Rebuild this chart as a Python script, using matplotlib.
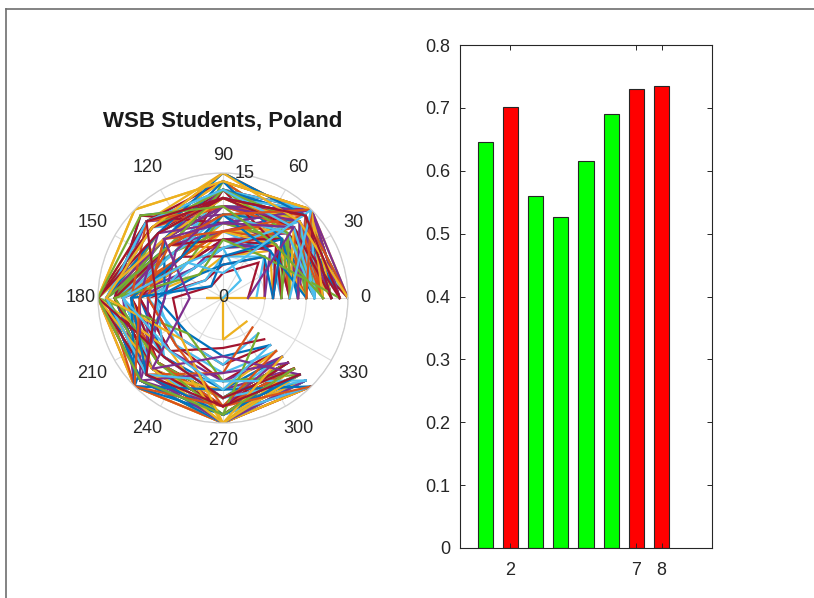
import numpy as np
import matplotlib
matplotlib.use("Agg")
import matplotlib.pyplot as plt
from matplotlib.lines import Line2D

plt.rcParams['font.family'] = ['Liberation Sans', 'DejaVu Sans']

# Survey directions (degrees) and per-direction scores for every respondent
angles_deg = [0, 45, 90, 135, 180, 225, 270, 315]

q0 = [12, 9, 15, 7, 10, 13, 8, 11, 14, 6, 15, 10, 12, 5, 11, 9, 13, 8, 14, 12,
      3, 11, 10, 15, 9, 12, 7, 13, 11, 14, 10, 8, 12, 15, 6, 13, 14, 11, 9, 12,
      4, 14, 10, 8, 13, 11, 7, 12, 15, 14, 9, 13, 5, 11, 12, 8, 15, 10, 5, 9,
      12, 0, 7, 6, 12, 10, 13, 7, 11, 14, 9, 12, 8, 15, 10, 11, 6, 13, 12, 9,
      14, 8, 11, 13, 10, 15, 12, 9, 14, 11, 13, 6, 10, 15, 3, 12, 8, 14]
q45 = [15, 11, 14, 9, 12, 15, 10, 13, 15, 8, 13, 12, 14, 7, 15, 12, 11, 9, 15, 13,
       6, 14, 10, 15, 11, 12, 8, 15, 10, 13, 14, 11, 13, 12, 9, 15, 14, 11, 14, 10,
       7, 15, 13, 10, 14, 12, 10, 15, 11, 13, 12, 15, 8, 13, 12, 9, 14, 14, 0, 15,
       11, 3, 9, 7, 14, 9, 13, 11, 15, 12, 10, 13, 12, 15, 13, 11, 10, 14, 12, 13,
       15, 11, 13, 12, 8, 14, 15, 13, 7, 12, 14, 10, 15, 13, 12, 9, 15, 14]
q90 = [10, 8, 15, 6, 13, 9, 7, 12, 13, 5, 11, 14, 12, 4, 9, 14, 8, 10, 11, 13,
       3, 13, 9, 14, 7, 12, 8, 13, 6, 11, 12, 9, 10, 12, 7, 11, 15, 9, 12, 8,
       5, 14, 10, 8, 12, 11, 9, 13, 10, 11, 6, 14, 7, 12, 9, 13, 13, 11, 0, 8,
       10, 6, 5, 4, 11, 8, 13, 10, 12, 9, 14, 8, 12, 11, 13, 10, 7, 15, 11, 12,
       9, 13, 6, 12, 10, 8, 14, 11, 7, 13, 12, 5, 10, 15, 9, 11, 3, 12]
q135 = [9, 7, 13, 5, 8, 12, 6, 11, 12, 4, 10, 7, 11, 3, 8, 12, 9, 13, 10, 8,
        2, 9, 8, 15, 6, 11, 9, 11, 5, 10, 12, 8, 9, 10, 6, 14, 12, 7, 11, 8,
        3, 13, 9, 7, 11, 10, 8, 12, 9, 10, 9, 12, 5, 10, 8, 7, 13, 10, 0, 9,
        6, 5, 7, 4, 12, 6, 10, 9, 11, 14, 10, 7, 11, 10, 12, 8, 9, 11, 13, 10,
        11, 9, 6, 12, 7, 10, 15, 8, 4, 13, 11, 2, 9, 12, 10, 14, 6, 13]
q180 = [14, 13, 15, 12, 14, 15, 11, 14, 15, 10, 13, 12, 14, 9, 13, 15, 12, 13, 14, 13,
        6, 14, 12, 15, 11, 13, 12, 14, 10, 13, 14, 12, 13, 15, 11, 13, 14, 12, 14, 12,
        8, 15, 13, 12, 14, 13, 12, 14, 12, 13, 13, 15, 10, 13, 12, 11, 14, 14, 2, 12,
        13, 9, 10, 8, 15, 11, 14, 13, 15, 13, 7, 12, 14, 9, 15, 12, 13, 14, 11, 15,
        10, 14, 8, 15, 11, 9, 15, 7, 13, 14, 15, 11, 10, 14, 4, 15, 12, 8]
q225 = [13, 12, 14, 11, 13, 14, 10, 12, 15, 9, 13, 11, 13, 8, 12, 14, 12, 12, 14, 11,
        7, 13, 12, 15, 11, 13, 10, 14, 10, 13, 13, 11, 12, 14, 10, 12, 15, 11, 13, 12,
        8, 14, 12, 11, 13, 12, 12, 14, 11, 13, 12, 14, 9, 12, 12, 11, 14, 13, 0, 15,
        12, 7, 9, 6, 13, 12, 14, 11, 13, 12, 15, 11, 13, 13, 6, 12, 12, 14, 13, 9,
        14, 12, 10, 13, 15, 8, 12, 14, 11, 13, 10, 13, 15, 7, 12, 14, 9, 13]
q270 = [15, 14, 15, 13, 14, 15, 12, 13, 15, 11, 14, 13, 14, 10, 13, 15, 14, 12, 15, 13,
        8, 14, 13, 15, 12, 14, 12, 15, 11, 14, 15, 13, 14, 14, 12, 13, 15, 12, 14, 13,
        9, 15, 13, 12, 14, 13, 13, 15, 12, 14, 14, 15, 10, 13, 13, 12, 15, 14, 5, 11,
        13, 8, 6, 7, 14, 12, 14, 12, 15, 13, 14, 13, 11, 15, 10, 14, 13, 14, 9, 15,
        13, 15, 12, 14, 11, 13, 15, 9, 14, 10, 12, 14, 13, 15, 7, 14, 11, 13]
q315 = [14, 12, 15, 11, 13, 14, 11, 12, 13, 10, 14, 12, 15, 9, 13, 14, 12, 11, 14, 13,
        8, 12, 12, 14, 11, 13, 10, 15, 10, 13, 14, 12, 13, 12, 11, 14, 15, 12, 13, 11,
        9, 14, 12, 12, 14, 13, 12, 14, 11, 13, 13, 15, 10, 13, 12, 11, 14, 12, 4, 12,
        13, 6, 7, 8, 13, 12, 15, 11, 14, 12, 13, 12, 9, 14, 13, 15, 11, 13, 5, 12,
        10, 13, 14, 12, 15, 9, 13, 11, 6, 14, 12, 13, 15, 10, 13, 12, 8, 13]

# Per-question summary shown in the bar chart
bar_values = [0.646, 0.702, 0.560, 0.526, 0.616, 0.691, 0.730, 0.735]
bar_colors = ['#00ff00', '#ff0000', '#00ff00', '#00ff00',
              '#00ff00', '#00ff00', '#ff0000', '#ff0000']
bar_ticks = [2, 7, 8]
y_ticks = [0, 0.1, 0.2, 0.3, 0.4, 0.5, 0.6, 0.7, 0.8]
y_tick_labels = ['0', '0.1', '0.2', '0.3', '0.4', '0.5', '0.6', '0.7', '0.8']
theta_ticks = list(range(0, 360, 30))
r_ticks = [0, 5, 10, 15]
r_label_values = [0, 15]
title_text = 'WSB Students, Poland'

line_colors = ['#0072BD', '#D95319', '#EDB120', '#7E2F8E',
               '#77AC30', '#4DBEEE', '#A2142F']

TXT = '#262626'
FS = 13
W, H = 814, 598
fig = plt.figure(figsize=(W / 100, H / 100), dpi=100)
fig.patch.set_facecolor('white')

# window frame edges
fig.add_artist(Line2D([6 / W, 1], [1 - 9 / H, 1 - 9 / H], color='#6e6e6e', lw=1.2))
fig.add_artist(Line2D([6 / W, 6 / W], [0, 1 - 9 / H], color='#6e6e6e', lw=1.2))

# ---- polar plot ----
cx, cy, R = 223, 298, 125
axp = fig.add_axes([(cx - R) / W, 1 - (cy + R) / H, 2 * R / W, 2 * R / H],
                   projection='polar')
theta = np.deg2rad(angles_deg)
scores = np.array([q0, q45, q90, q135, q180, q225, q270, q315]).T
for i, row in enumerate(scores):
    axp.plot(theta, row, color=line_colors[i % len(line_colors)], lw=1.6,
             solid_joinstyle='miter', zorder=2)

rmax = 15
axp.set_ylim(0, rmax)
axp.set_yticks(r_ticks)
axp.set_yticklabels([])
for v in r_label_values:
    axp.text(np.deg2rad(80), v * 1.01, str(v), ha='center', va='center',
             fontsize=FS, color=TXT, zorder=5)

# angle labels sit just outside the outer ring
axp.set_thetagrids(theta_ticks, [''] * len(theta_ticks))
for t in theta_ticks:
    on_axis = t % 90 == 0
    r_lab = rmax * (1.14 if on_axis else 1.205)
    axp.text(np.deg2rad(t), r_lab, str(t), ha='center', va='center',
             fontsize=FS, color=TXT, clip_on=False)
axp.grid(True, color='#dcdcdc', lw=0.8)
axp.spines['polar'].set_color('#cfcfcf')
axp.spines['polar'].set_linewidth(0.9)
axp.set_facecolor('white')

fig.text(cx / W, 1 - 121 / H, title_text, ha='center', va='center',
         fontsize=16, fontweight='bold', color='#1a1a1a')

# ---- bar chart ----
axb = fig.add_axes([460 / W, 1 - 548 / H, (712 - 460) / W, (548 - 45) / H])
x = np.arange(1, len(bar_values) + 1)
axb.bar(x, bar_values, width=0.6, color=bar_colors, edgecolor='#262626', lw=0.8)
axb.set_xlim(0, 10)
axb.set_ylim(0, 0.8)
axb.set_xticks(bar_ticks)
axb.set_xticklabels([str(t) for t in bar_ticks])
axb.set_yticks(y_ticks)
axb.set_yticklabels(y_tick_labels)
axb.tick_params(direction='in', top=True, right=True, length=3.5, width=0.7,
                labelsize=FS, colors=TXT)
axb.tick_params(axis='y', pad=7)
axb.tick_params(axis='x', pad=10)
for s in axb.spines.values():
    s.set_color(TXT)
    s.set_linewidth(0.8)

fig.savefig('out.png', dpi=100, facecolor='white')
